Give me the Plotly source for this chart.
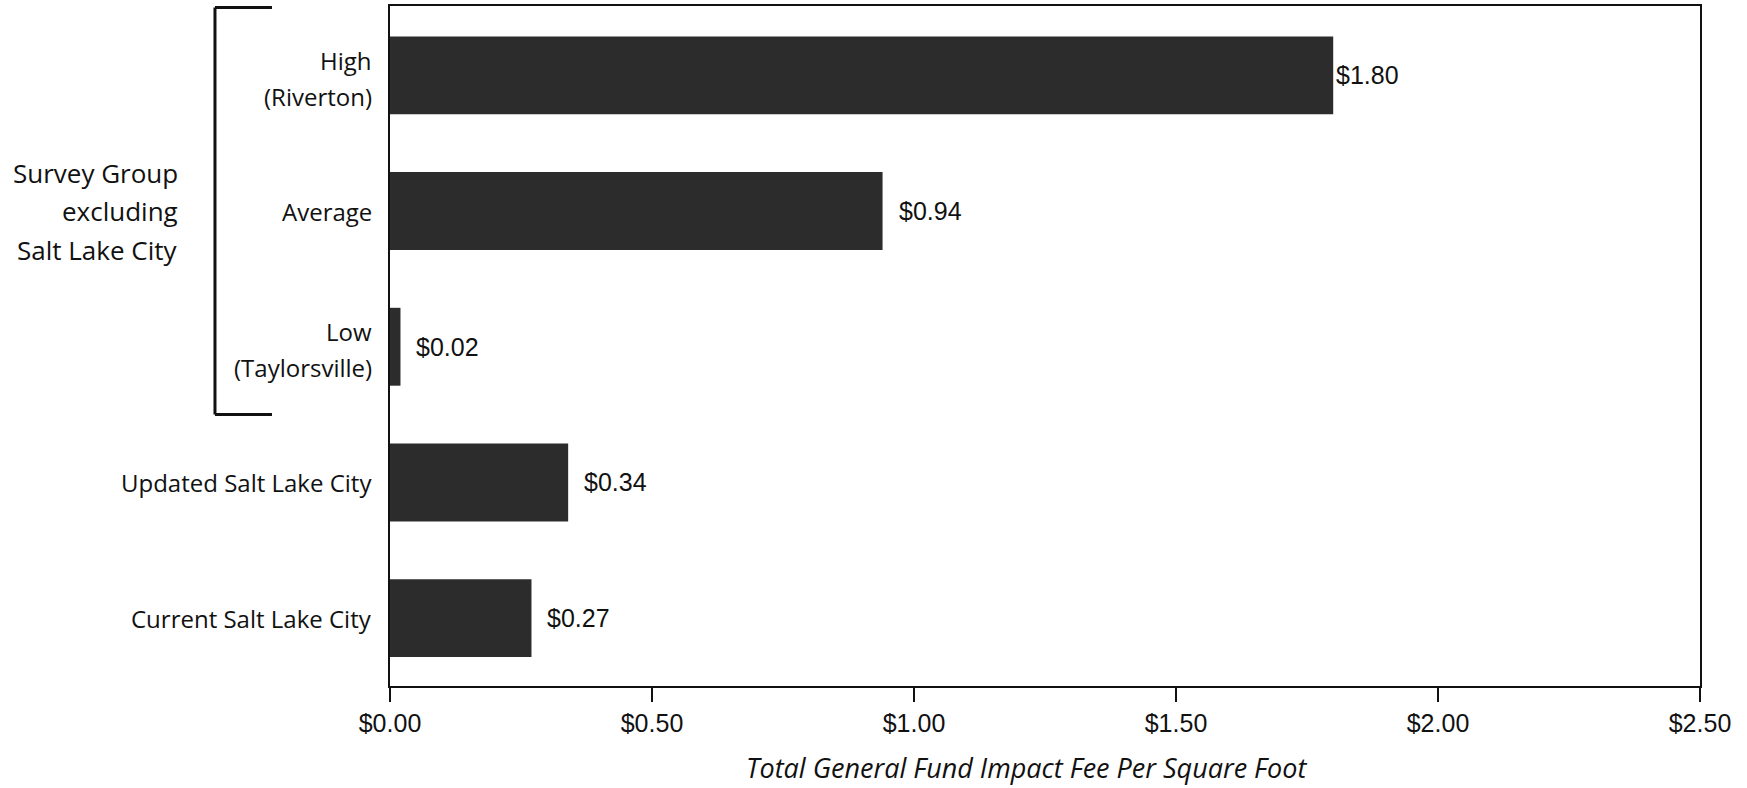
import plotly.graph_objects as go

# Categories, top to bottom
cat_ids = ["high", "average", "low", "updated", "current"]
cat_lines = [
    ["High", "(Riverton)"],
    ["Average"],
    ["Low", "(Taylorsville)"],
    ["Updated Salt Lake City"],
    ["Current Salt Lake City"],
]
fees = [1.80, 0.94, 0.02, 0.34, 0.27]
x_ticks = [0.0, 0.5, 1.0, 1.5, 2.0, 2.5]
group_lines = ["Survey Group", "excluding", "Salt Lake City"]
x_title = "Total General Fund Impact Fee Per Square Foot"

BAR = "#2c2c2c"
INK = "#111111"
LABEL_FONT = dict(family="Open Sans", size=24, color=INK)
NUM_FONT = dict(family="Liberation Sans", size=25, color=INK)

fig = go.Figure(
    go.Bar(
        x=fees,
        y=cat_ids,
        orientation="h",
        width=0.574,
        marker=dict(color=BAR, line=dict(width=0)),
        hoverinfo="skip",
    )
)

annotations = []

# value labels to the right of each bar
for cid, v in zip(cat_ids, fees):
    annotations.append(dict(
        x=v, y=cid, xref="x", yref="y", text=f"${v:.2f}",
        showarrow=False, xanchor="left", yanchor="middle",
        xshift=1 if v >= 1.5 else 14, font=NUM_FONT,
    ))

# category labels (drawn as annotations for wider line spacing)
for cid, lines in zip(cat_ids, cat_lines):
    shifts = [0] if len(lines) == 1 else [15, -21]
    for line, s in zip(lines, shifts):
        annotations.append(dict(
            x=0, y=cid, xref="x", yref="y", text=line, showarrow=False,
            xanchor="right", yanchor="middle", xshift=-16, yshift=s,
            font=LABEL_FONT,
        ))

# group caption beside the bracket
for line, s in zip(group_lines, [38, 0, -39]):
    annotations.append(dict(
        x=-0.160, y="average", xref="paper", yref="y", text=line,
        showarrow=False, xanchor="right", yanchor="middle", yshift=s,
        font=dict(family="Open Sans", size=26, color=INK),
    ))

# x-axis title
annotations.append(dict(
    x=0.4855, y=-0.1204, xref="paper", yref="paper", text=f"<i>{x_title}</i>",
    showarrow=False, xanchor="center", yanchor="middle",
    font=dict(family="Open Sans", size=27, color=INK),
))

# bracket grouping the survey rows
bx, bt = -0.1336, -0.0901
bracket = dict(color=INK, width=3)
shapes = [
    dict(type="line", xref="paper", yref="y", x0=bx, x1=bx, y0=-0.5, y1=2.5, line=bracket),
    dict(type="line", xref="paper", yref="y", x0=bx, x1=bt, y0=-0.5, y1=-0.5, line=bracket),
    dict(type="line", xref="paper", yref="y", x0=bx, x1=bt, y0=2.5, y1=2.5, line=bracket),
]

fig.update_layout(
    width=1747, height=788,
    margin=dict(l=390, r=47, t=4, b=102),
    paper_bgcolor="white", plot_bgcolor="white",
    showlegend=False,
    annotations=annotations,
    shapes=shapes,
    xaxis=dict(
        range=[0, 2.5], tickvals=x_ticks,
        ticktext=[f"${t:.2f}" for t in x_ticks],
        ticks="outside", ticklen=14, tickwidth=2, tickcolor=INK,
        showline=True, linecolor=INK, linewidth=2, mirror=True,
        showgrid=False, zeroline=False,
        tickfont=NUM_FONT, ticklabelstandoff=0,
    ),
    yaxis=dict(
        categoryorder="array", categoryarray=cat_ids, autorange="reversed",
        range=[4.5, -0.5], showticklabels=False, ticks="",
        showline=True, linecolor=INK, linewidth=2, mirror=True,
        showgrid=False, zeroline=False,
    ),
)

fig.write_html("out.html")
